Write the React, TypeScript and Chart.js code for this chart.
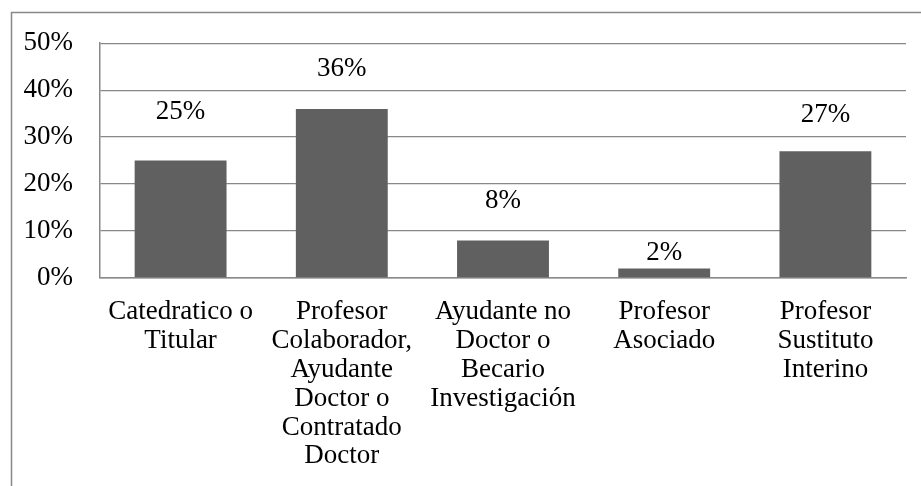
import React, { useEffect, useRef } from "react";
import { Chart, registerables } from "chart.js";

Chart.register(...registerables);

const categories: string[][] = [
  ["Catedratico o", "Titular"],
  ["Profesor", "Colaborador,", "Ayudante", "Doctor o", "Contratado", "Doctor"],
  ["Ayudante no", "Doctor o", "Becario", "Investigación"],
  ["Profesor", "Asociado"],
  ["Profesor", "Sustituto", "Interino"],
];
const values: number[] = [25, 36, 8, 2, 27];
const yTicks: number[] = [0, 10, 20, 30, 40, 50];
const labelOffsets: number[] = [49, 40, 40, 16, 36];

const FONT = "'Liberation Serif', 'Times New Roman', serif";
const GRAY = "#888888";
const FS = 27;

const framePlugin = {
  id: "frame",
  beforeDraw(chart: any) {
    const ctx = chart.ctx;
    ctx.save();
    ctx.strokeStyle = GRAY;
    ctx.lineWidth = 1.5;
    ctx.beginPath();
    ctx.moveTo(11.5, 486);
    ctx.lineTo(11.5, 12.5);
    ctx.lineTo(921, 12.5);
    ctx.stroke();
    ctx.restore();
  },
};

const valueLabelPlugin = {
  id: "valueLabels",
  afterDatasetsDraw(chart: any) {
    const ctx = chart.ctx;
    const meta = chart.getDatasetMeta(0);
    ctx.save();
    ctx.font = `${FS}px ${FONT}`;
    ctx.fillStyle = "#000";
    ctx.textAlign = "center";
    ctx.textBaseline = "middle";
    meta.data.forEach((bar: any, i: number) => {
      ctx.fillText(`${values[i]}%`, bar.x, bar.y - labelOffsets[i]);
    });
    ctx.restore();
  },
};

export default function App() {
  const ref = useRef<HTMLCanvasElement | null>(null);
  useEffect(() => {
    if (!ref.current) return;
    const chart = new Chart(ref.current, {
      type: "bar",
      data: {
        labels: categories,
        datasets: [
          {
            data: values,
            backgroundColor: "#606060",
            borderWidth: 0,
            barPercentage: 0.57,
            categoryPercentage: 1,
          },
        ],
      },
      options: {
        animation: false,
        responsive: false,
        maintainAspectRatio: false,
        layout: { padding: { top: 42, right: 15, bottom: 0, left: 0 } },
        plugins: { legend: { display: false }, tooltip: { enabled: false } },
        scales: {
          x: {
            grid: { display: false, drawTicks: false },
            border: { display: true, color: GRAY, width: 1.5 },
            ticks: {
              color: "#000",
              font: { family: FONT, size: FS, lineHeight: 28.8 / FS },
              padding: 20,
              autoSkip: false,
              maxRotation: 0,
              minRotation: 0,
            },
            afterFit: (scale: any) => {
              scale.height = 208;
            },
          },
          y: {
            min: 0,
            max: 50,
            afterBuildTicks: (scale: any) => {
              scale.ticks = yTicks.map((v) => ({ value: v }));
            },
            grid: { color: GRAY, lineWidth: 1.3, drawTicks: false },
            border: { display: true, color: GRAY, width: 1.5 },
            ticks: {
              color: "#000",
              font: { family: FONT, size: FS },
              padding: 27,
              callback: (v: any) => `${v}%`,
            },
            afterFit: (scale: any) => {
              scale.width = 100;
            },
          },
        },
      },
      plugins: [framePlugin, valueLabelPlugin],
    });
    return () => chart.destroy();
  }, []);
  return (
    <div style={{ position: "fixed", left: 0, top: 0, width: 921, height: 486, background: "#fff" }}>
      <canvas ref={ref} width={921} height={486} style={{ width: 921, height: 486 }} />
    </div>
  );
}
